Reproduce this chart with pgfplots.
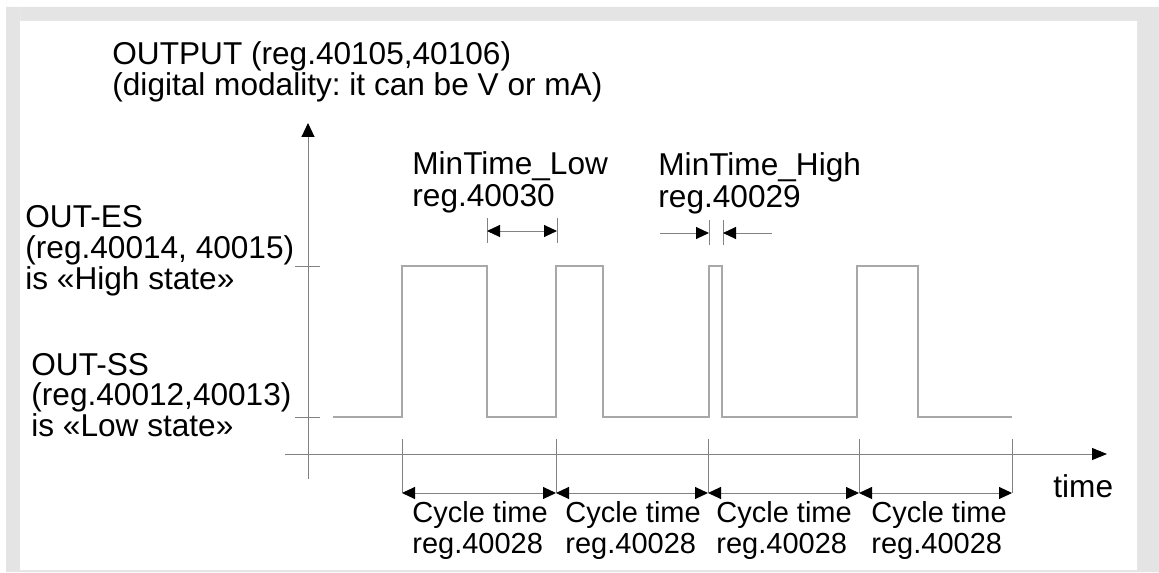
\documentclass[border=0pt]{standalone}
\usepackage{fontspec}
\setmainfont{Liberation Sans}
\usepackage{pgfplots}
\pgfplotsset{compat=1.18}
\usetikzlibrary{arrows.meta}
\frenchspacing

\definecolor{frame}{RGB}{228,228,228}
\definecolor{wave}{RGB}{168,168,168}
\definecolor{axgray}{RGB}{130,130,130}

\tikzset{
  >={Triangle[length=6.5pt,width=6pt,black]},
  lbl/.style={anchor=base west, inner sep=0pt, text=black, font=\fontsize{15.8}{16}\selectfont},
  clbl/.style={anchor=base west, inner sep=0pt, text=black, font=\fontsize{14.5}{15}\selectfont},
}

\begin{document}
\begin{tikzpicture}
\begin{axis}[
  scale only axis, width=579.5pt, height=286pt,
  xmin=0, xmax=1159, ymin=0, ymax=572, y dir=reverse,
  axis lines=none, clip=false]

% page and frame (pixel coordinates, y downwards)
\addplot[fill=white, draw=none] coordinates {(0,0) (1159,0) (1159,572) (0,572)} \closedcycle;
\addplot[fill=frame, draw=none] coordinates {(6,7) (1159,7) (1159,572) (6,572)} \closedcycle;
\addplot[fill=white, draw=none] coordinates {(20,21) (1137,21) (1137,570) (20,570)} \closedcycle;

% output axis and time axis
\addplot[axgray, line width=0.5pt, -{Triangle[length=7pt,width=6.5pt,black]}] coordinates {(308,479) (308,123)};
\addplot[axgray, line width=0.5pt, -{Triangle[length=7.5pt,width=6pt,black]}] coordinates {(285,454) (1107,454)};
\addplot[axgray, line width=0.5pt] coordinates {(295,266) (320,266)};
\addplot[axgray, line width=0.5pt] coordinates {(295,417) (320,417)};

% output signal
\addplot[wave, line width=0.8pt] coordinates {
  (333,417) (402,417) (402,266) (487,266) (487,417)
  (556,417) (556,266) (603,266) (603,417)
  (709,417) (709,266) (722,266) (722,417)
  (857,417) (857,266) (918,266) (918,417) (1012,417)};

% MinTime_Low
\addplot[axgray, line width=0.5pt] coordinates {(487,218) (487,243)};
\addplot[axgray, line width=0.5pt] coordinates {(557,218) (557,243)};
\addplot[axgray, line width=0.5pt, <->] coordinates {(487,231) (557,231)};

% MinTime_High
\addplot[axgray, line width=0.5pt] coordinates {(709,220) (709,245)};
\addplot[axgray, line width=0.5pt] coordinates {(723,220) (723,245)};
\addplot[axgray, line width=0.5pt, ->] coordinates {(660,233) (709,233)};
\addplot[axgray, line width=0.5pt, ->] coordinates {(772,233) (723,233)};

% cycle time markers
\addplot[axgray, line width=0.5pt] coordinates {(402,439) (402,493)};
\addplot[axgray, line width=0.5pt] coordinates {(556,439) (556,493)};
\addplot[axgray, line width=0.5pt] coordinates {(708,439) (708,493)};
\addplot[axgray, line width=0.5pt] coordinates {(859,439) (859,493)};
\addplot[axgray, line width=0.5pt] coordinates {(1012,439) (1012,493)};
\addplot[axgray, line width=0.5pt, <->] coordinates {(402,493) (556,493)};
\addplot[axgray, line width=0.5pt, <->] coordinates {(556,493) (708,493)};
\addplot[axgray, line width=0.5pt, <->] coordinates {(708,493) (859,493)};
\addplot[axgray, line width=0.5pt, <->] coordinates {(859,493) (1012,493)};

% texts
\node[lbl] at (axis cs:112,65) {OUTPUT (reg.40105,40106)};
\node[lbl] at (axis cs:112,96) {(digital modality: it can be V or mA)};

\node[lbl] at (axis cs:25,227) {OUT-ES};
\node[lbl] at (axis cs:25,258) {(reg.40014, 40015)};
\node[lbl] at (axis cs:25,289) {is «High state»};

\node[lbl] at (axis cs:31,375) {OUT-SS};
\node[lbl] at (axis cs:31,405) {(reg.40012,40013)};
\node[lbl] at (axis cs:31,436) {is «Low state»};

\node[lbl] at (axis cs:412,175) {MinTime\_Low};
\node[lbl] at (axis cs:412,206) {reg.40030};
\node[lbl] at (axis cs:658,176) {MinTime\_High};
\node[lbl] at (axis cs:658,207) {reg.40029};

\node[lbl] at (axis cs:1053,497) {time};

\node[clbl] at (axis cs:412,522) {Cycle time};
\node[clbl] at (axis cs:412,553) {reg.40028};
\node[clbl] at (axis cs:565,522) {Cycle time};
\node[clbl] at (axis cs:565,553) {reg.40028};
\node[clbl] at (axis cs:716,522) {Cycle time};
\node[clbl] at (axis cs:716,553) {reg.40028};
\node[clbl] at (axis cs:871,522) {Cycle time};
\node[clbl] at (axis cs:871,553) {reg.40028};
\end{axis}
\end{tikzpicture}
\end{document}
